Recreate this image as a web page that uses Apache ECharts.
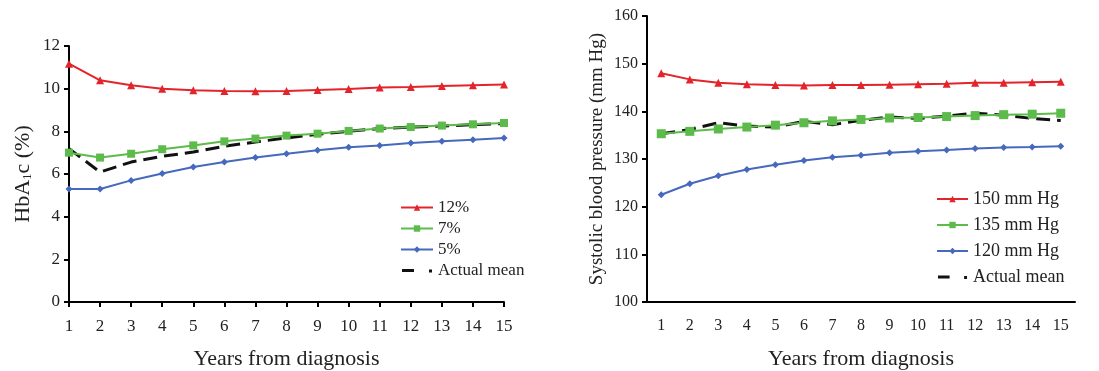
<!DOCTYPE html>
<html><head><meta charset="utf-8">
<script src="https://cdn.jsdelivr.net/npm/echarts@6/dist/echarts.min.js"></script>
<style>html,body{margin:0;padding:0;background:#fff}#c{width:1099px;height:371px}</style>
</head><body><div id="c"></div>
<script>
const years = ['1','2','3','4','5','6','7','8','9','10','11','12','13','14','15'];
const hba12 = [11.17,10.39,10.16,10.0,9.92,9.89,9.88,9.89,9.94,9.98,10.05,10.08,10.12,10.16,10.2];
const hba7  = [7.0,6.77,6.95,7.16,7.34,7.53,7.66,7.8,7.89,8.02,8.13,8.2,8.27,8.33,8.39];
const hba5  = [5.3,5.3,5.7,6.02,6.33,6.56,6.77,6.95,7.11,7.25,7.34,7.45,7.53,7.61,7.69];
const hbaMean = [7.19,6.09,6.56,6.83,7.03,7.3,7.5,7.69,7.86,8.0,8.13,8.2,8.25,8.31,8.36];
const sbp150 = [148.0,146.7,146.0,145.7,145.5,145.4,145.5,145.5,145.6,145.7,145.8,146.0,146.0,146.1,146.2];
const sbp135 = [135.3,135.8,136.3,136.7,137.1,137.6,138.0,138.3,138.6,138.7,138.9,139.1,139.3,139.4,139.6];
const sbp120 = [122.5,124.8,126.5,127.8,128.8,129.7,130.35,130.8,131.3,131.6,131.9,132.2,132.4,132.5,132.7];
const sbpMean = [135.3,136.2,137.6,136.9,136.7,137.9,137.2,138.1,138.8,138.5,139.0,139.6,139.2,138.5,138.1];

const RED='#e3242b', GREEN='#5cbb4a', BLUE='#4669bd', BLACK='#111';
const FONT='Liberation Serif';
const MEAN_ICON = 'path://M0,0H0.01V0.01H0Z M1,2.5H13V5.5H1Z M28,3H31V6H28Z M31.99,7.99H32V8H31.99Z';
const chart = echarts.init(document.getElementById('c'));
const axisLine = {lineStyle:{color:'#000',width:2}};
const axisTick = {lineStyle:{color:'#000',width:2},length:5};
function line(name, data, color, symbol, size, xi){
  return {name, type:'line', data, xAxisIndex:xi, yAxisIndex:xi, symbol, symbolSize:size,
    showSymbol:true, itemStyle:{color}, lineStyle:{color,width:2}, animation:false};
}
function mean(data, xi){
  return {name:'Actual mean', type:'line', data, xAxisIndex:xi, yAxisIndex:xi, symbol:'none',
    itemStyle:{color:BLACK}, lineStyle:{color:BLACK,width:3,type:[14,7]}, animation:false, z:1};
}
chart.setOption({
  animation:false,
  textStyle:{fontFamily:FONT},
  grid:[
    {left:69,width:435,top:46,height:256,outerBoundsMode:'none',containLabel:false},
    {left:647,width:428,top:16,height:286,outerBoundsMode:'none',containLabel:false}
  ],
  legend:[
    {data:['12%','7%','5%'].map(n=>({name:n})).concat([{name:'Actual mean',icon:MEAN_ICON,itemStyle:{color:BLACK}}]),
     orient:'vertical', left:395, top:194,
     itemGap:4, itemWidth:32, itemHeight:8, textStyle:{fontFamily:FONT,fontSize:17,color:'#222'}},
    {data:['150 mm Hg','135 mm Hg','120 mm Hg'].map(n=>({name:n})).concat([{name:'Actual mean',icon:MEAN_ICON,itemStyle:{color:BLACK}}]),
     orient:'vertical', left:931, top:185,
     itemGap:8, itemWidth:31, itemHeight:8, textStyle:{fontFamily:FONT,fontSize:18,color:'#222'}}
  ],
  xAxis:[
    {type:'category', gridIndex:0, data:years, boundaryGap:false, axisLine, axisTick,
     axisLabel:{fontFamily:FONT,fontSize:17,color:'#222',margin:16},
     name:'Years from diagnosis', nameLocation:'middle', nameGap:46,
     nameTextStyle:{fontFamily:FONT,fontSize:22,color:'#222'}},
    {type:'category', gridIndex:1, data:years, boundaryGap:true, axisLine, axisTick,
     axisLabel:{fontFamily:FONT,fontSize:16,color:'#222',margin:16},
     name:'Years from diagnosis', nameLocation:'middle', nameGap:46,
     nameTextStyle:{fontFamily:FONT,fontSize:22,color:'#222'}}
  ],
  yAxis:[
    {type:'value', gridIndex:0, min:0, max:12, interval:2, splitLine:{show:false}, axisLine:{show:true,...axisLine}, axisTick:{show:true,...axisTick},
     axisLabel:{fontFamily:FONT,fontSize:17,color:'#222',margin:9},
     name:'HbA{s|1}c (%)', nameLocation:'middle', nameGap:35,
     nameTextStyle:{fontFamily:FONT,fontSize:22,color:'#222',rich:{s:{fontFamily:FONT,fontSize:13,color:'#222',verticalAlign:'bottom',padding:[9,0,0,0]}}}},
    {type:'value', gridIndex:1, min:100, max:160, interval:10, splitLine:{show:false}, axisLine:{show:true,...axisLine}, axisTick:{show:true,...axisTick},
     axisLabel:{fontFamily:FONT,fontSize:16,color:'#222',margin:9},
     name:'Systolic blood pressure (mm Hg)', nameLocation:'middle', nameGap:40,
     nameTextStyle:{fontFamily:FONT,fontSize:19,color:'#222'}}
  ],
  series:[
    line('12%', hba12, RED, 'triangle', 8, 0),
    line('7%', hba7, GREEN, 'rect', 8, 0),
    line('5%', hba5, BLUE, 'diamond', 7, 0),
    mean(hbaMean, 0),
    line('150 mm Hg', sbp150, RED, 'triangle', 8, 1),
    line('135 mm Hg', sbp135, GREEN, 'rect', 9, 1),
    line('120 mm Hg', sbp120, BLUE, 'diamond', 7, 1),
    mean(sbpMean, 1)
  ]
});
</script></body></html>
